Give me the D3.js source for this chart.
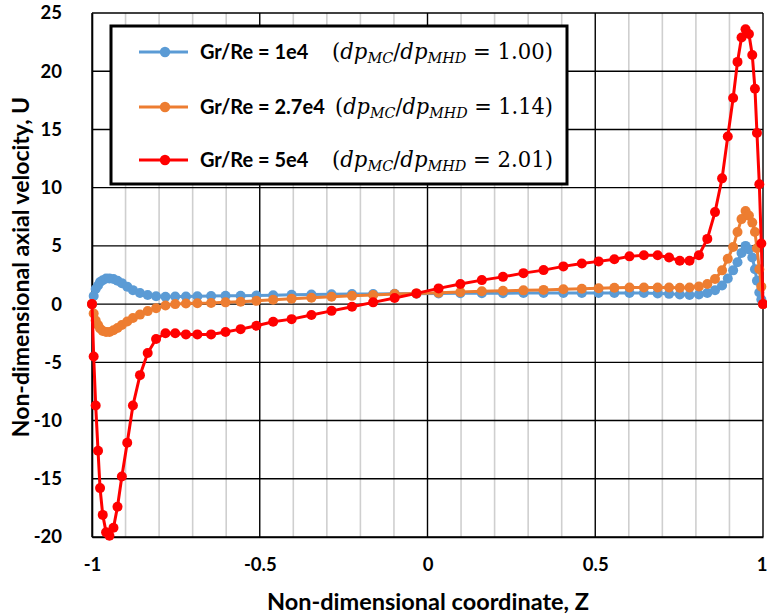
<!DOCTYPE html>
<html><head><meta charset="utf-8">
<script src="https://cdn.jsdelivr.net/npm/d3@7"></script>
<style>body{margin:0;background:#fff}svg{display:block}</style>
</head><body>
<svg id="c" width="767" height="616"></svg>
<script>
const zCoord = [-1, -0.995, -0.989, -0.982, -0.976, -0.968, -0.958, -0.948, -0.936, -0.924, -0.911, -0.895, -0.878, -0.857, -0.834, -0.809, -0.781, -0.752, -0.720, -0.686, -0.645, -0.602, -0.557, -0.510, -0.460, -0.405, -0.346, -0.286, -0.225, -0.162, -0.098, -0.033,
  0.033, 0.098, 0.162, 0.225, 0.286, 0.346, 0.405, 0.460, 0.510, 0.557, 0.602, 0.645, 0.686, 0.720, 0.752, 0.781, 0.809, 0.834, 0.857, 0.878, 0.895, 0.911, 0.924, 0.936, 0.948, 0.958, 0.968, 0.976, 0.982, 0.989, 0.995, 1];
const uBlue = [0, 0.7, 1.3, 1.6, 1.9, 2.05, 2.2, 2.2, 2.15, 2.0, 1.8, 1.5, 1.2, 0.95, 0.78, 0.68, 0.63, 0.65, 0.66, 0.68, 0.7, 0.72, 0.72, 0.74, 0.76, 0.8, 0.82, 0.84, 0.86, 0.86, 0.88, 0.9,
  0.92, 0.93, 0.93, 0.94, 0.95, 0.95, 0.95, 0.95, 0.95, 0.95, 0.95, 0.95, 0.92, 0.88, 0.82, 0.78, 0.82, 0.95, 1.2, 1.6, 2.2, 2.9, 3.6, 4.4, 5.0, 4.7, 4.0, 3.0, 2.0, 1.0, 0.4, 0];
const uOrange = [0, -0.8, -1.4, -1.8, -2.1, -2.3, -2.4, -2.4, -2.25, -2.05, -1.8, -1.5, -1.2, -0.9, -0.6, -0.35, -0.12, 0.0, 0.05, 0.08, 0.1, 0.15, 0.2, 0.28, 0.37, 0.47, 0.55, 0.63, 0.71, 0.79, 0.86, 0.92,
  0.97, 1.03, 1.1, 1.14, 1.18, 1.22, 1.27, 1.32, 1.36, 1.4, 1.42, 1.43, 1.43, 1.42, 1.4, 1.42, 1.52, 1.72, 2.15, 2.9, 3.9, 4.9, 6.2, 7.3, 8.0, 7.6, 7.0, 6.2, 4.8, 3.0, 1.5, 0];
const uRed = [0, -4.5, -8.7, -12.6, -15.8, -18.1, -19.6, -19.9, -19.2, -17.4, -14.8, -11.9, -8.7, -6.1, -4.2, -3.0, -2.5, -2.5, -2.6, -2.6, -2.6, -2.4, -2.15, -1.86, -1.52, -1.29, -0.94, -0.58, -0.23, 0.15, 0.52, 0.92,
  1.35, 1.72, 2.06, 2.34, 2.66, 2.92, 3.24, 3.49, 3.67, 3.85, 4.1, 4.2, 4.2, 4.0, 3.72, 3.72, 4.2, 5.6, 7.9, 10.8, 14.4, 17.7, 20.8, 22.9, 23.6, 23.2, 21.4, 18.5, 14.7, 10.3, 5.2, 0];
const seriesNames = ["Gr/Re = 1e4", "Gr/Re = 2.7e4", "Gr/Re = 5e4"];
const ratioLabels = ["1.00", "1.14", "2.01"];
const seriesColors = ["#5B9BD5", "#ED7D31", "#FF0000"];
const xTicks = [-1, -0.5, 0, 0.5, 1];
const xTickLabels = ["-1", "-0.5", "0", "0.5", "1"];
const yTicks = [-20, -15, -10, -5, 0, 5, 10, 15, 20, 25];
const xMinor = [-0.9, -0.8, -0.7, -0.6, -0.4, -0.3, -0.2, -0.1, 0.1, 0.2, 0.3, 0.4, 0.6, 0.7, 0.8, 0.9];

const svg = d3.select("#c");
const L = 92, R = 763, T = 13, B = 537;
const x = d3.scaleLinear().domain([-1, 1]).range([L, R]);
const y = d3.scaleLinear().domain([-20, 25]).range([B, T]);
const font = "Lato, 'Open Sans', sans-serif";

svg.append("rect").attr("width", 767).attr("height", 616).attr("fill", "#fff");

svg.append("g").selectAll("line").data(xMinor).join("line")
  .attr("x1", d => x(d)).attr("x2", d => x(d)).attr("y1", T).attr("y2", B)
  .attr("stroke", "#cfcfcf").attr("stroke-width", 1.6);
svg.append("g").selectAll("line").data(xTicks).join("line")
  .attr("x1", d => x(d)).attr("x2", d => x(d)).attr("y1", T).attr("y2", B)
  .attr("stroke", "#000").attr("stroke-width", 1.4);
svg.append("g").selectAll("line").data(yTicks).join("line")
  .attr("x1", L).attr("x2", R).attr("y1", d => y(d)).attr("y2", d => y(d))
  .attr("stroke", "#000").attr("stroke-width", 1.4);

const xAxis = svg.append("g").attr("transform", `translate(0,${B})`)
  .call(d3.axisBottom(x).tickValues(xTicks).tickSize(0).tickPadding(21).tickFormat((d, i) => xTickLabels[i]));
const yAxis = svg.append("g").attr("transform", `translate(${L},0)`)
  .call(d3.axisLeft(y).tickValues(yTicks).tickSize(0).tickPadding(30).tickFormat(d => String(d)));
[xAxis, yAxis].forEach(a => {
  a.select(".domain").attr("stroke", "#000").attr("stroke-width", 1.6);
  a.selectAll("text").attr("font-family", font).attr("font-weight", "bold").attr("font-size", 18.5).attr("fill", "#000");
});
xAxis.selectAll(".tick text").filter(d => d === 1).attr("text-anchor", "end").attr("dx", 4);

svg.append("text").attr("x", 428).attr("y", 610).attr("text-anchor", "middle")
  .attr("font-family", font).attr("font-weight", "bold").attr("font-size", 23.5).text("Non-dimensional coordinate, Z");
svg.append("text").attr("transform", "translate(29,267) rotate(-90)").attr("text-anchor", "middle")
  .attr("font-family", font).attr("font-weight", "bold").attr("font-size", 23).text("Non-dimensional axial velocity, U");

const allU = [uBlue, uOrange, uRed];
const line = d3.line().x(d => x(d[0])).y(d => y(d[1]));
allU.forEach((u, k) => {
  const pts = zCoord.map((z, i) => [z, u[i]]);
  const g = svg.append("g");
  g.append("path").datum(pts).attr("d", line).attr("fill", "none")
    .attr("stroke", seriesColors[k]).attr("stroke-width", 3);
  g.selectAll("circle").data(pts).join("circle")
    .attr("cx", d => x(d[0])).attr("cy", d => y(d[1])).attr("r", 5)
    .attr("fill", seriesColors[k]);
});

const lg = svg.append("g");
lg.append("rect").attr("x", 111).attr("y", 26).attr("width", 456).attr("height", 158)
  .attr("fill", "#fff").attr("stroke", "#000").attr("stroke-width", 3);
const rowsY = [52, 107, 160];
seriesNames.forEach((name, k) => {
  const yy = rowsY[k];
  lg.append("line").attr("x1", 139).attr("x2", 188).attr("y1", yy).attr("y2", yy)
    .attr("stroke", seriesColors[k]).attr("stroke-width", 3);
  lg.append("circle").attr("cx", 165).attr("cy", yy).attr("r", 5.2).attr("fill", seriesColors[k]);
  lg.append("text").attr("x", 200).attr("y", yy + 7).attr("font-family", font)
    .attr("font-weight", "bold").attr("font-size", 20).text(name);
  const x0 = k === 1 ? 335 : 332;
  const t = lg.append("text").attr("x", x0).attr("y", yy + 7)
    .attr("font-family", "'DejaVu Serif', 'Liberation Serif', serif").attr("font-size", 22);
  t.append("tspan").text("(");
  t.append("tspan").attr("font-style", "italic").text("dp");
  t.append("tspan").attr("font-style", "italic").attr("font-size", 15).attr("dy", 4).text("MC");
  t.append("tspan").attr("dy", -4).text("/");
  t.append("tspan").attr("font-style", "italic").text("dp");
  t.append("tspan").attr("font-style", "italic").attr("font-size", 15).attr("dy", 4).text("MHD");
  t.append("tspan").attr("dy", -4).text(" = " + ratioLabels[k] + ")");
  t.attr("textLength", 553 - x0).attr("lengthAdjust", "spacingAndGlyphs");
});
</script>
</body></html>
